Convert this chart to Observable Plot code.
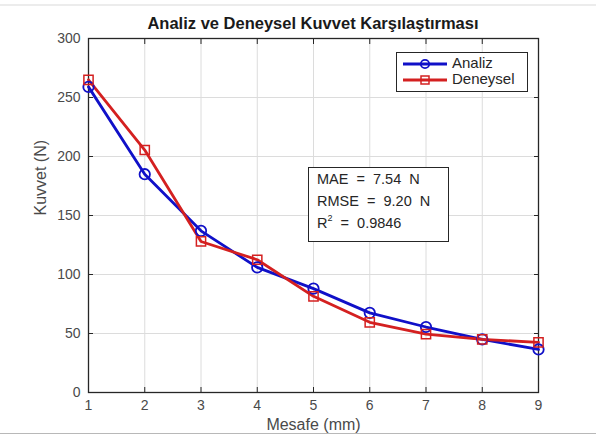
<!DOCTYPE html>
<html><head><meta charset="utf-8">
<script src="https://cdn.jsdelivr.net/npm/d3@7"></script>
<script src="https://cdn.jsdelivr.net/npm/@observablehq/plot@0.6"></script>
<style>
body{margin:0;background:#fff;font-family:"Liberation Sans",Arial,sans-serif;}
#wrap{position:relative;width:596px;height:441px;overflow:hidden;}
#title{position:absolute;left:88px;width:450px;top:0;height:30px;line-height:47px;text-align:center;font-weight:bold;font-size:16.5px;color:#1a1a1a;}
#chart{position:absolute;left:0;top:30px;}
.box{position:absolute;background:#fff;border:1px solid #262626;font-size:15px;color:#262626;}
#legend{left:396px;top:52px;width:130px;height:38px;}
#stats{left:308px;top:167px;width:139px;height:73px;font-size:14.5px;}
#stats div{position:absolute;left:8px;white-space:pre;}
#legend div{position:absolute;left:55px;}
#legend svg{position:absolute;left:0;top:0;}
#topline{position:absolute;left:0;top:4px;width:596px;height:2px;background:#ececec;}
#botline{position:absolute;left:0;top:433px;width:596px;height:1px;background:#b8b8b8;}
</style></head>
<body><div id="wrap">
<div id="topline"></div>
<div id="botline"></div>
<div id="title">Analiz ve Deneysel Kuvvet Karşılaştırması</div>
<div id="chart"></div>
<div id="legend" class="box"></div>
<div id="stats" class="box"></div>
</div>
<script>
const mesafe = [1,2,3,4,5,6,7,8,9];
const analiz = [259,185,137,106,88,67.5,55.5,45,36.5];
const deneysel = [265,205.5,128,112.5,81.5,59.5,49.5,45,42.5];
const seriesNames = ["Analiz","Deneysel"];
const seriesColors = ["#1010c8","#d42020"];
const xTicks = [1,2,3,4,5,6,7,8,9];
const yTicks = [0,50,100,150,200,250,300];
const xLabel = "Mesafe (mm)";
const yLabel = "Kuvvet (N)";
const statLines = ["MAE  =  7.54  N","RMSE  =  9.20  N"];
const r2 = "0.9846";

const data = [];
mesafe.forEach((m,i)=>{
  data.push({x:m,y:analiz[i],s:seriesNames[0]});
  data.push({x:m,y:deneysel[i],s:seriesNames[1]});
});
const A = data.filter(d=>d.s==="Analiz");
const D = data.filter(d=>d.s==="Deneysel");
const axisColor = "#262626";
const labelColor = "#4a4a4a";

const plot = Plot.plot({
  width:596, height:411,
  marginLeft:88, marginRight:58, marginTop:8, marginBottom:49,
  style:{fontFamily:"'Liberation Sans', Arial, sans-serif", fontSize:"13px", background:"transparent"},
  x:{domain:[1,9]},
  y:{domain:[0,300]},
  marks:[
    Plot.gridX(xTicks,{stroke:"#dcdcdc",strokeOpacity:1,strokeWidth:1}),
    Plot.gridY(yTicks,{stroke:"#dcdcdc",strokeOpacity:1,strokeWidth:1}),
    Plot.axisX(xTicks,{tickSize:0,tickPadding:8,fill:labelColor,fontSize:14,label:null,tickFormat:d=>d}),
    Plot.axisY(yTicks,{tickSize:0,tickPadding:8,fill:labelColor,fontSize:14,label:null,tickFormat:d=>d}),
    Plot.text([xLabel],{text:d=>d,frameAnchor:"bottom",lineAnchor:"middle",dy:32,fontSize:16,fill:labelColor}),
    Plot.text([yLabel],{text:d=>d,frameAnchor:"left",lineAnchor:"middle",dx:-48,rotate:-90,fontSize:16,fill:labelColor}),
    Plot.axisX(xTicks,{tickSize:-5,text:null,label:null,stroke:axisColor}),
    Plot.axisX(xTicks,{anchor:"top",tickSize:-5,text:null,label:null,stroke:axisColor}),
    Plot.axisY(yTicks,{tickSize:-5,text:null,label:null,stroke:axisColor}),
    Plot.axisY(yTicks,{anchor:"right",tickSize:-5,text:null,label:null,stroke:axisColor}),
    Plot.frame({stroke:axisColor,strokeWidth:1.3}),
    Plot.line(A,{x:"x",y:"y",stroke:seriesColors[0],strokeWidth:2.8}),
    Plot.line(D,{x:"x",y:"y",stroke:seriesColors[1],strokeWidth:2.8}),
    Plot.dot(A,{x:"x",y:"y",r:5.2,stroke:seriesColors[0],strokeWidth:1.8,symbol:"circle",fill:"none"}),
    Plot.dot(D,{x:"x",y:"y",r:5.2,stroke:seriesColors[1],strokeWidth:1.5,symbol:"square",fill:"none"})
  ]
});
document.getElementById("chart").appendChild(plot);

// legend
const leg = document.getElementById("legend");
let svg = `<svg width="60" height="38">`;
seriesNames.forEach((n,i)=>{
  const cy = 11 + i*16;
  svg += `<line x1="6" x2="50" y1="${cy}" y2="${cy}" stroke="${seriesColors[i]}" stroke-width="2.8"/>`;
  if(i===0) svg += `<circle cx="28" cy="${cy}" r="4.2" fill="none" stroke="${seriesColors[i]}" stroke-width="1.8"/>`;
  else svg += `<rect x="24" y="${cy-4}" width="8" height="8" fill="none" stroke="${seriesColors[i]}" stroke-width="1.5"/>`;
});
svg += `</svg>`;
leg.innerHTML = svg + seriesNames.map((n,i)=>`<div style="top:${1+i*16}px">${n}</div>`).join("");

const st = document.getElementById("stats");
st.innerHTML = statLines.map((l,i)=>`<div style="top:${3+i*22}px">${l}</div>`).join("") +
  `<div style="top:${47}px">R<sup style="font-size:9px;vertical-align:7px;line-height:0">2</sup>  =  ${r2}</div>`;
</script>
</body></html>
